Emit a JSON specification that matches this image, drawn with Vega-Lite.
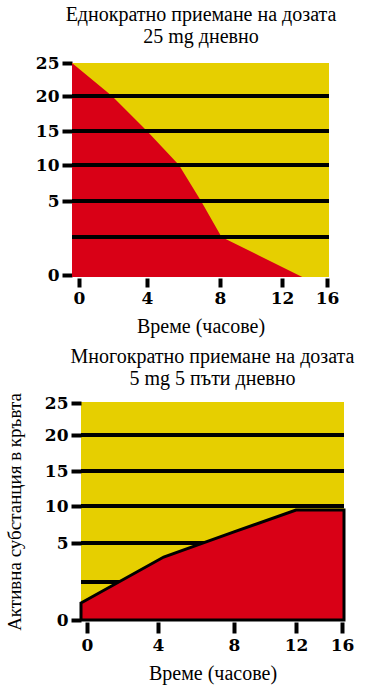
{
  "$schema": "https://vega.github.io/schema/vega-lite/v6.json",
  "background": "white",
  "padding": {"left": 5, "top": 5, "right": 5, "bottom": 2},
  "spacing": 10,
  "config": {
    "view": {"stroke": null},
    "axis": {
      "domain": false, "grid": false, "tickColor": "black", "tickWidth": 4,
      "labelFont": "DejaVu Serif", "labelFontWeight": "bold", "labelFontSize": 17, "labelColor": "black",
      "titleFont": "Liberation Serif", "titleFontWeight": "normal", "titleColor": "black",
      "labelFlush": false, "labelOverlap": false
    },
    "title": {"font": "Liberation Serif", "fontWeight": "normal", "fontSize": 20, "color": "black", "lineHeight": 22, "frame": "group", "anchor": "middle"}
  },
  "vconcat": [
    {
      "title": {"text": ["Еднократно приемане на дозата", "25 mg дневно"], "dx": -4, "offset": 7},
      "width": 248,
      "height": 214,
      "data": {"values": [
        {"t": -0.41, "v": 25},
        {"t": 1.94, "v": 20},
        {"t": 4, "v": 15},
        {"t": 5.75, "v": 10},
        {"t": 6.96, "v": 5},
        {"t": 8.1, "v": 2.5},
        {"t": 13.8, "v": -0.2}
      ]},
      "encoding": {
        "x": {"field": "t", "type": "quantitative",
          "scale": {"domain": [-0.41, 0, 4, 8, 12, 16, 16.18], "range": [-9, -2, 66, 139, 201, 246, 248], "nice": false, "zero": false},
          "axis": {"values": [0, 4, 8, 12, 16], "tickSize": 9, "offset": 1, "labelPadding": 3, "title": "Време (часове)", "titleFontSize": 20, "titlePadding": 10}},
        "y": {"field": "v", "type": "quantitative",
          "scale": {"domain": [-0.2, 0, 2.5, 5, 10, 15, 20, 25], "range": [214, 212, 174, 138, 102, 68, 33, 0], "nice": false, "zero": false},
          "axis": {"values": [0, 5, 10, 15, 20, 25], "tickSize": 10, "offset": 9, "labelPadding": 3, "title": null}}
      },
      "layer": [
        {
          "data": {"values": [{"t": -0.41, "t2": 16.18, "v": -0.2, "v2": 25}]},
          "mark": {"type": "rect", "color": "#E6CF00"},
          "encoding": {"x2": {"field": "t2"}, "y2": {"field": "v2"}}
        },
        {
          "mark": {"type": "area", "color": "#D90016", "interpolate": "linear"},
          "encoding": {"y2": {"datum": -0.2}}
        },
        {
          "data": {"values": [
            {"v": 20, "t": -0.41, "t2": 16.18},
            {"v": 15, "t": -0.41, "t2": 16.18},
            {"v": 10, "t": -0.41, "t2": 16.18},
            {"v": 5, "t": -0.41, "t2": 16.18},
            {"v": 2.5, "t": -0.41, "t2": 16.18}
          ]},
          "mark": {"type": "rule", "color": "black", "strokeWidth": 4},
          "encoding": {"x2": {"field": "t2"}}
        }
      ]
    },
    {
      "title": {"text": ["Многократно приемане на дозата", "5 mg 5 пъти дневно"], "offset": 4},
      "width": 263,
      "height": 218,
      "view": {"fill": "#E6CF00", "stroke": null},
      "data": {"values": [
        {"t": -0.34, "v": 1.12},
        {"t": 4.3, "v": 4.1},
        {"t": 8, "v": 6.5},
        {"t": 12, "v": 9.46},
        {"t": 16.17, "v": 9.46}
      ]},
      "encoding": {
        "x": {"field": "t", "type": "quantitative",
          "scale": {"domain": [-0.34, 0, 4, 8, 12, 16, 16.17], "range": [0, 6, 77, 153, 215, 261, 263], "nice": false, "zero": false},
          "axis": {"values": [0, 4, 8, 12, 16], "tickSize": 11, "offset": 2, "labelPadding": 4, "title": "Време (часове)", "titleFontSize": 20, "titlePadding": 10}},
        "y": {"field": "v", "type": "quantitative",
          "scale": {"domain": [0, 2.5, 5, 10, 15, 20, 25], "range": [218, 180, 141, 104, 69, 33, 1], "nice": false, "zero": false},
          "axis": {"values": [0, 5, 10, 15, 20, 25], "tickSize": 10, "labelPadding": 3, "title": "Активна субстанция в кръвта", "titleFontSize": 19, "titlePadding": 20}}
      },
      "layer": [
        {
          "data": {"values": [
            {"v": 20, "t": -0.34, "t2": 16.17},
            {"v": 15, "t": -0.34, "t2": 16.17},
            {"v": 10, "t": -0.34, "t2": 16.17},
            {"v": 5, "t": -0.34, "t2": 16.17},
            {"v": 2.5, "t": -0.34, "t2": 16.17}
          ]},
          "mark": {"type": "rule", "color": "black", "strokeWidth": 4},
          "encoding": {"x2": {"field": "t2"}}
        },
        {
          "mark": {"type": "area", "color": "#D90016", "stroke": "black", "strokeWidth": 3, "interpolate": "linear"},
          "encoding": {"y2": {"datum": 0}}
        }
      ]
    }
  ]
}
